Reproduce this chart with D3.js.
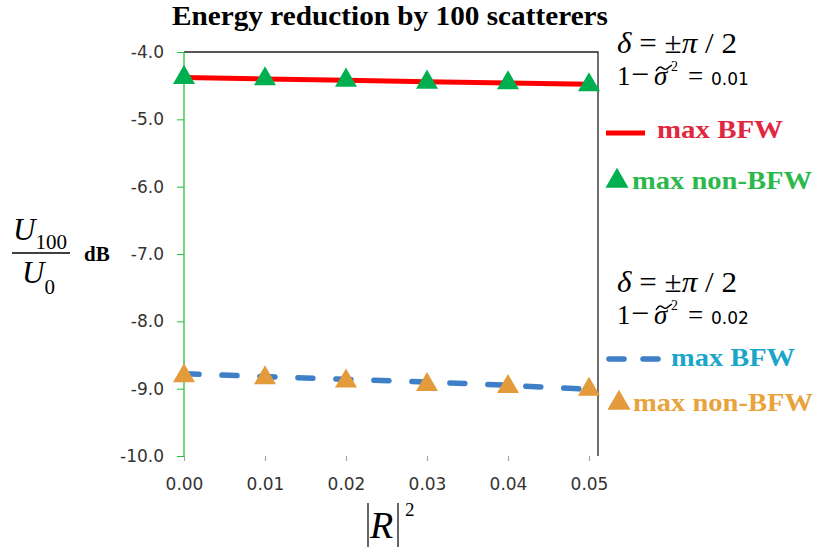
<!DOCTYPE html>
<html>
<head>
<meta charset="utf-8">
<script src="https://cdn.jsdelivr.net/npm/d3@7"></script>
<style>
  body { margin: 0; background: #fff; }
  svg { display: block; }
</style>
</head>
<body>
<svg id="chart" width="815" height="549"></svg>
<script>
// values
var xVals = [0.00, 0.01, 0.02, 0.03, 0.04, 0.05];
var xTicks = ["0.00", "0.01", "0.02", "0.03", "0.04", "0.05"];
var yTicks = [-4, -5, -6, -7, -8, -9, -10];

var bfw1 = [-4.38, -4.40, -4.42, -4.44, -4.46, -4.48];     // sigma 0.01, line
var nonBfw1 = [-4.38, -4.40, -4.42, -4.45, -4.46, -4.49];  // sigma 0.01, triangles
var bfw2 = [-8.78, -8.82, -8.86, -8.90, -8.95, -9.01];     // sigma 0.02, dashed
var nonBfw2 = [-8.81, -8.84, -8.89, -8.94, -8.97, -9.01];  // sigma 0.02, triangles

var serif = "'Liberation Serif', 'Times New Roman', serif";
var sans = "'DejaVu Sans', sans-serif";

var svg = d3.select("#chart");

var x = d3.scaleLinear().domain([0, 0.05]).range([184, 589]);
var y = d3.scaleLinear().domain([-10, -4]).range([456, 52]);
var plotRight = 598;

// gridlines
svg.append("g").selectAll("line")
  .data(yTicks.filter(function(d) { return d > -4; }))
  .enter().append("line")
  .attr("x1", x(0)).attr("x2", plotRight)
  .attr("y1", function(d) { return y(d); }).attr("y2", function(d) { return y(d); })
  .attr("stroke", "#a6a6a6").attr("stroke-width", 1.2);

// top and right border
svg.append("path")
  .attr("d", "M" + x(0) + "," + y(-4) + "H" + plotRight + "V" + y(-10))
  .attr("fill", "none").attr("stroke", "#222").attr("stroke-width", 1.3);

// x axis
var xAxis = d3.axisBottom(x).tickValues(xVals)
  .tickFormat(function(d, i) { return xTicks[i]; })
  .tickSize(5).tickPadding(17);
var gx = svg.append("g").attr("transform", "translate(0," + y(-10) + ")").call(xAxis);
gx.select(".domain").remove();
gx.selectAll(".tick line").attr("stroke", "#a6a6a6").attr("stroke-width", 1.2);
gx.selectAll("text").attr("font-family", sans).attr("font-size", 17).attr("fill", "#333");

// y axis (green)
var yAxis = d3.axisLeft(y).tickValues(yTicks)
  .tickFormat(function(d) { return d.toFixed(1); }).tickSize(7).tickPadding(13);
var gy = svg.append("g").attr("transform", "translate(" + x(0) + ",0)").call(yAxis);
gy.select(".domain").attr("stroke", "#22c03c").attr("stroke-width", 1.3).attr("d", "M0," + y(-4) + "V" + y(-10));
gy.selectAll(".tick line").attr("stroke", "#22c03c");
gy.selectAll("text").attr("font-family", sans).attr("font-size", 17).attr("fill", "#333");

var line = d3.line()
  .x(function(d, i) { return x(xVals[i]); })
  .y(function(d) { return y(d); });

var tri = d3.symbol().type(d3.symbolTriangle).size(210);

// sigma 0.01 series
svg.append("path").attr("d", line(bfw1))
  .attr("fill", "none").attr("stroke", "#ff0000").attr("stroke-width", 5);
svg.append("g").selectAll("path").data(nonBfw1).enter().append("path")
  .attr("d", tri)
  .attr("transform", function(d, i) { return "translate(" + x(xVals[i]) + "," + y(d) + ")"; })
  .attr("fill", "#00b050");

// sigma 0.02 series
svg.append("path").attr("d", line(bfw2))
  .attr("fill", "none").attr("stroke", "#3f7fc8").attr("stroke-width", 5.5)
  .attr("stroke-dasharray", "15,23").attr("stroke-linecap", "round");
svg.append("g").selectAll("path").data(nonBfw2).enter().append("path")
  .attr("d", tri)
  .attr("transform", function(d, i) { return "translate(" + x(xVals[i]) + "," + y(d) + ")"; })
  .attr("fill", "#e39b3c");

// title
svg.append("text").attr("x", 172).attr("y", 25)
  .attr("font-family", serif).attr("font-weight", "bold").attr("font-size", 27)
  .attr("textLength", 436).attr("lengthAdjust", "spacingAndGlyphs")
  .text("Energy reduction by 100 scatterers");

// y label: U100 / U0 dB
var yl = svg.append("g").attr("font-family", serif);
var num = yl.append("text").attr("x", 13).attr("y", 240).attr("font-size", 31);
num.append("tspan").attr("font-style", "italic").text("U");
num.append("tspan").attr("font-size", 21).attr("dy", 9).text("100");
yl.append("line").attr("x1", 12).attr("x2", 70).attr("y1", 253).attr("y2", 253)
  .attr("stroke", "#000").attr("stroke-width", 1.3);
var den = yl.append("text").attr("x", 22).attr("y", 283).attr("font-size", 31);
den.append("tspan").attr("font-style", "italic").text("U");
den.append("tspan").attr("font-size", 21).attr("dy", 11).text("0");
yl.append("text").attr("x", 84).attr("y", 261).attr("font-size", 21)
  .attr("font-weight", "bold").text("dB");

// x label |R|^2
var xl = svg.append("g").attr("font-family", serif);
xl.append("line").attr("x1", 368).attr("x2", 368).attr("y1", 503).attr("y2", 547).attr("stroke", "#000").attr("stroke-width", 1.2);
xl.append("line").attr("x1", 398).attr("x2", 398).attr("y1", 503).attr("y2", 547).attr("stroke", "#000").attr("stroke-width", 1.2);
xl.append("text").attr("x", 370).attr("y", 538).attr("font-size", 38).attr("font-style", "italic").text("R");
xl.append("text").attr("x", 405).attr("y", 516).attr("font-size", 19).text("2");

// annotation blocks
var tilde = d3.line().curve(d3.curveBasis);
function paramBlock(y0, sigmaVal) {
  var t1 = svg.append("text").attr("x", 617).attr("y", y0).attr("font-family", serif).attr("font-size", 30)
    .attr("textLength", 120).attr("lengthAdjust", "spacingAndGlyphs");
  t1.append("tspan").attr("font-style", "italic").text("\u03b4");
  t1.append("tspan").text(" = \u00b1");
  t1.append("tspan").attr("font-style", "italic").text("\u03c0");
  t1.append("tspan").text(" / 2");

  var b = y0 + 32;
  var g = svg.append("g").attr("font-family", serif).attr("font-size", 27);
  g.append("text").attr("x", 617).attr("y", b).text("1");
  g.append("text").attr("x", 631).attr("y", b).attr("font-size", 32).text("\u2212");
  g.append("text").attr("x", 654).attr("y", b).attr("font-style", "italic").text("\u03c3");
  g.append("text").attr("x", 671).attr("y", b - 14).attr("font-size", 14).text("2");
  g.append("text").attr("x", 688).attr("y", b).text("=");
  g.append("text").attr("x", 711).attr("y", b).attr("font-family", sans).attr("font-size", 17).text(sigmaVal);
  // tilde over sigma
  svg.append("path")
    .attr("d", tilde([[656, b - 14], [660, b - 20], [665, b - 14], [669, b - 18], [672, b - 20]]))
    .attr("fill", "none").attr("stroke", "#000").attr("stroke-width", 1.4);
}
paramBlock(53, "0.01");
paramBlock(292, "0.02");

// legend, first block
svg.append("line").attr("x1", 606).attr("x2", 645).attr("y1", 133).attr("y2", 133)
  .attr("stroke", "#ff0000").attr("stroke-width", 5);
svg.append("text").attr("x", 657).attr("y", 138).attr("font-family", serif)
  .attr("font-weight", "bold").attr("font-size", 26).attr("fill", "#e3263f")
  .attr("textLength", 126).attr("lengthAdjust", "spacingAndGlyphs").text("max BFW");
svg.append("path").attr("d", d3.symbol().type(d3.symbolTriangle).size(230))
  .attr("transform", "translate(617,181)").attr("fill", "#00b050");
svg.append("text").attr("x", 632).attr("y", 189).attr("font-family", serif)
  .attr("font-weight", "bold").attr("font-size", 26).attr("fill", "#2db84d")
  .attr("textLength", 180).attr("lengthAdjust", "spacingAndGlyphs").text("max non-BFW");

// legend, second block
svg.append("line").attr("x1", 609).attr("x2", 660).attr("y1", 359).attr("y2", 359)
  .attr("stroke", "#3f7fc8").attr("stroke-width", 5.5)
  .attr("stroke-dasharray", "15,19").attr("stroke-linecap", "round");
svg.append("text").attr("x", 671).attr("y", 366).attr("font-family", serif)
  .attr("font-weight", "bold").attr("font-size", 26).attr("fill", "#1aa6c8")
  .attr("textLength", 124).attr("lengthAdjust", "spacingAndGlyphs").text("max BFW");
svg.append("path").attr("d", d3.symbol().type(d3.symbolTriangle).size(230))
  .attr("transform", "translate(619,403)").attr("fill", "#e39b3c");
svg.append("text").attr("x", 633).attr("y", 411).attr("font-family", serif)
  .attr("font-weight", "bold").attr("font-size", 26).attr("fill", "#e8a33d")
  .attr("textLength", 180).attr("lengthAdjust", "spacingAndGlyphs").text("max non-BFW");
</script>
</body>
</html>
